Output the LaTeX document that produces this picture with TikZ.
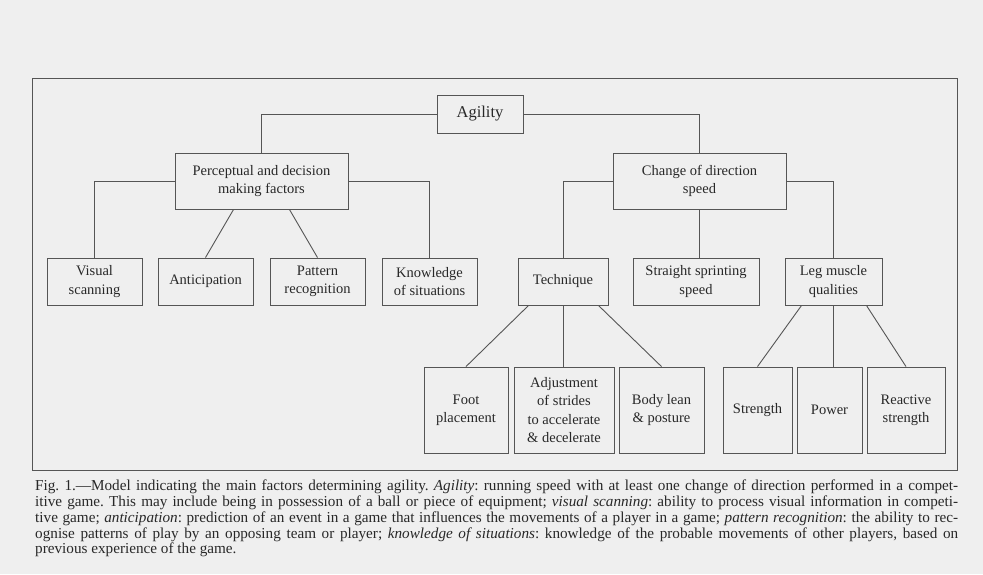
\documentclass[tikz,border=0pt]{standalone}
\usepackage{fontspec}
\setmainfont{Liberation Serif}
\definecolor{bg}{RGB}{239,239,239}
\definecolor{ln}{RGB}{85,85,85}
\definecolor{tx}{RGB}{40,40,40}
\newcommand{\capline}[1]{\hbox to 923pt{#1}}
\begin{document}
\begin{tikzpicture}[x=1pt,y=-1pt,
  box/.style={draw=ln, line width=0.9pt, fill=bg, inner sep=0pt, align=center, text=tx,
    font=\fontsize{14.5}{18.4}\selectfont},
  conn/.style={draw=ln, line width=0.9pt}]
\path[use as bounding box, fill=bg] (0,0) rectangle (983,574);
\draw[conn] (32,78) rectangle (957,470);

% nodes
\node[box, minimum width=86pt, minimum height=38pt, font=\fontsize{16.5}{20}\selectfont] (agility) at (480,114) {Agility};
\node[box, minimum width=173pt, minimum height=56pt] (perc) at (261.5,181) {Perceptual and decision\\making factors};
\node[box, minimum width=173pt, minimum height=56pt] (change) at (699.5,181) {Change of direction\\speed};

\node[box, minimum width=95pt, minimum height=47pt] (vis) at (94.5,281.5) {Visual\\scanning};
\node[box, minimum width=95pt, minimum height=47pt] (antic) at (205.5,281.5) {Anticipation};
\node[box, minimum width=95pt, minimum height=47pt] (patt) at (317.5,281.5) {Pattern\\recognition};
\node[box, minimum width=95pt, minimum height=47pt] (know) at (429.5,281.5) {Knowledge\\of situations};

\node[box, minimum width=90pt, minimum height=47pt] (tech) at (563,281.5) {Technique};
\node[box, minimum width=126pt, minimum height=47pt] (straight) at (696,281.5) {Straight sprinting\\speed};
\node[box, minimum width=97pt, minimum height=47pt] (leg) at (833.5,281.5) {Leg muscle\\qualities};

\node[box, minimum width=84pt, minimum height=86pt] (foot) at (466,410) {Foot\\placement};
\node[box, minimum width=100pt, minimum height=86pt] (adj) at (564,410) {Adjustment\\of strides\\to accelerate\\\& decelerate};
\node[box, minimum width=85pt, minimum height=86pt] (body) at (661.5,410) {Body lean\\\& posture};
\node[box, minimum width=69pt, minimum height=86pt] (strength) at (757.5,410) {Strength};
\node[box, minimum width=65pt, minimum height=86pt] (power) at (829.5,410) {Power};
\node[box, minimum width=78pt, minimum height=86pt] (react) at (906,410) {Reactive\\strength};

% connectors
\draw[conn] (agility.west) -| (perc.north);
\draw[conn] (agility.east) -| (change.north);
\draw[conn] (perc.west) -| (vis.north);
\draw[conn] (perc.east) -| (know.north);
\draw[conn] ([xshift=59pt]perc.south west) -- (antic.north);
\draw[conn] ([xshift=-59pt]perc.south east) -- (patt.north);

\draw[conn] (change.west) -| (tech.north);
\draw[conn] (change.east) -| (leg.north);
\draw[conn] (change.south) -- (change.south |- straight.north);

\draw[conn] ([xshift=11pt]tech.south west) -- (foot.north);
\draw[conn] (tech.south) -- (tech.south |- adj.north);
\draw[conn] ([xshift=-10pt]tech.south east) -- (body.north);

\draw[conn] ([xshift=17pt]leg.south west) -- (strength.north);
\draw[conn] (leg.south) -- (leg.south |- power.north);
\draw[conn] ([xshift=-16pt]leg.south east) -- (react.north);

% caption
\node[anchor=north west, inner sep=0pt, text width=923pt, text=tx, align=justify,
  font=\fontsize{15.2}{15.7}\selectfont\frenchspacing] (cap) at (35,480) {%
\capline{Fig. 1.—Model indicating the main factors determining agility. \emph{Agility}: running speed with at least one change of direction performed in a compet-}
\capline{itive game. This may include being in possession of a ball or piece of equipment; \emph{visual scanning}: ability to process visual information in competi-}
\capline{tive game; \emph{anticipation}: prediction of an event in a game that influences the movements of a player in a game; \emph{pattern recognition}: the ability to rec-}
\capline{ognise patterns of play by an opposing team or player; \emph{knowledge of situations}: knowledge of the probable movements of other players, based on}
\capline{previous experience of the game.\hfil}};
\end{tikzpicture}
\end{document}
